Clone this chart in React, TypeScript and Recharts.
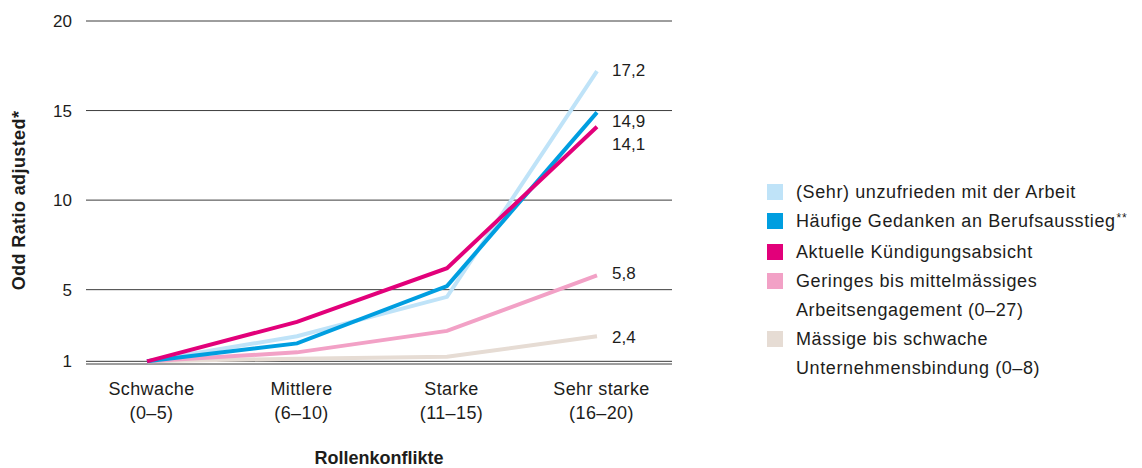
import React from "react";
import { LineChart, Line, XAxis, YAxis, CartesianGrid } from "recharts";

// Rollenkonflikte (x) – two-line labels
const categories = [
  "Schwache\n(0–5)",
  "Mittlere\n(6–10)",
  "Starke\n(11–15)",
  "Sehr starke\n(16–20)",
];

// odds ratios per series, one value per category
const unzufrieden = [1, 2.4, 4.6, 17.2];
const gedanken = [1, 2.0, 5.2, 14.9];
const kuendigung = [1, 3.2, 6.2, 14.1];
const engagement = [1, 1.5, 2.7, 5.8];
const bindung = [1, 1.15, 1.25, 2.4];

const yTicks = [1, 5, 10, 15, 20];

const SERIES = [
  { key: "unzufrieden", name: "(Sehr) unzufrieden mit der Arbeit", values: unzufrieden, color: "#bfe3f8", labelDy: -1 },
  { key: "gedanken", name: "Häufige Gedanken an Berufsausstieg**", values: gedanken, color: "#009ee0", labelDy: 9 },
  { key: "kuendigung", name: "Aktuelle Kündigungsabsicht", values: kuendigung, color: "#e2007a", labelDy: 18 },
  { key: "engagement", name: "Geringes bis mittelmässiges\nArbeitsengagement (0–27)", values: engagement, color: "#f2a1c6", labelDy: -2 },
  { key: "bindung", name: "Mässige bis schwache\nUnternehmensbindung (0–8)", values: bindung, color: "#e6dcd4", labelDy: 1 },
];

const data = categories.map((cat, i) => {
  const row: Record<string, string | number> = { cat };
  SERIES.forEach((s) => {
    row[s.key] = s.values[i];
  });
  return row;
});

// draw order: pale ones underneath, magenta on top
const DRAW_ORDER = ["bindung", "engagement", "unzufrieden", "gedanken", "kuendigung"];

const FONT = "'Liberation Sans', Arial, Helvetica, sans-serif";
const TEXT = "#1d1d1b";

const fmt = (v: number) => v.toFixed(1).replace(".", ",");

function CatTick(props: any) {
  const { x, y, payload } = props;
  const lines = String(payload.value).split("\n");
  return (
    <text
      x={x}
      y={y}
      textAnchor="middle"
      fill={TEXT}
      fontSize={18}
      fontFamily={FONT}
      letterSpacing={0.4}
    >
      <tspan x={x + 4.5} dy={31}>
        {lines[0]}
      </tspan>
      <tspan x={x + 4.5} dy={24}>
        {lines[1]}
      </tspan>
    </text>
  );
}

function YTitle(props: any) {
  const vb = props.viewBox || {};
  const tx = vb.x + 25;
  const ty = vb.y + vb.height / 2 + 8;
  return (
    <text
      x={tx}
      y={ty}
      transform={`rotate(-90, ${tx}, ${ty})`}
      textAnchor="middle"
      fontSize={18}
      fontWeight="bold"
      fontFamily={FONT}
      letterSpacing={0.4}
      fill={TEXT}
    >
      Odd Ratio adjusted*
    </text>
  );
}

function XTitle(props: any) {
  const vb = props.viewBox || {};
  return (
    <text
      x={vb.x + vb.width / 2}
      y={vb.y + vb.height + 40}
      textAnchor="middle"
      fontSize={18}
      fontWeight="bold"
      fontFamily={FONT}
      fill={TEXT}
    >
      Rollenkonflikte
    </text>
  );
}

function endLabel(dy: number) {
  return (props: any) => {
    const { x, y, index, value } = props;
    if (index !== categories.length - 1) return null;
    return (
      <text
        x={x + 15}
        y={y + dy}
        dominantBaseline="central"
        fontSize={17}
        fontFamily={FONT}
        fill={TEXT}
      >
        {fmt(Number(value))}
      </text>
    );
  };
}

function LegendName({ name }: { name: string }) {
  if (name.endsWith("**")) {
    return (
      <span>
        {name.slice(0, -2)}
        <span style={{ fontSize: 12, position: "relative", top: -5, marginLeft: 1 }}>**</span>
      </span>
    );
  }
  return <span>{name}</span>;
}

export default function App() {
  return (
    <div
      style={{
        position: "relative",
        width: 1142,
        height: 468,
        background: "#fff",
        fontFamily: FONT,
      }}
    >
      <style>{"body{margin:0}"}</style>
      <LineChart
        width={1142}
        height={468}
        data={data}
        margin={{ top: 21, right: 470, bottom: 44, left: 0 }}
        style={{ overflow: "visible" }}
      >
        <CartesianGrid vertical={false} stroke="#3c3c3c" strokeWidth={1} />
        <XAxis
          dataKey="cat"
          height={60}
          axisLine={false}
          tickLine={false}
          tickSize={0}
          tickMargin={0}
          interval={0}
          padding={{ left: 61, right: 75 }}
          tick={<CatTick />}
          label={{ content: <XTitle /> }}
        />
        <YAxis
          width={86}
          domain={[0.85, 20]}
          ticks={yTicks}
          axisLine={false}
          tickLine={false}
          tickSize={6}
          tickMargin={8}
          tick={{ fontSize: 17, fill: TEXT, fontFamily: FONT }}
          label={{ content: <YTitle /> }}
        />
        {DRAW_ORDER.map((k) => {
          const s = SERIES.find((x) => x.key === k)!;
          return (
            <Line
              key={s.key}
              type="linear"
              dataKey={s.key}
              name={s.name}
              stroke={s.color}
              strokeWidth={4}
              strokeLinejoin="miter"
              strokeLinecap="butt"
              dot={false}
              activeDot={false}
              isAnimationActive={false}
              label={endLabel(s.labelDy)}
            />
          );
        })}
      </LineChart>

      <div
        style={{
          position: "absolute",
          left: 767,
          top: 178,
          fontSize: 18,
          lineHeight: "29px",
          letterSpacing: 0.6,
          color: TEXT,
        }}
      >
        {SERIES.map((s) => (
          <div key={s.key} style={{ display: "flex", alignItems: "flex-start" }}>
            <span
              style={{
                width: 16,
                height: 16,
                marginTop: 6,
                marginRight: 13,
                background: s.color,
                flexShrink: 0,
              }}
            />
            <div style={{ whiteSpace: "pre-line" }}>
              <LegendName name={s.name} />
            </div>
          </div>
        ))}
      </div>
    </div>
  );
}
